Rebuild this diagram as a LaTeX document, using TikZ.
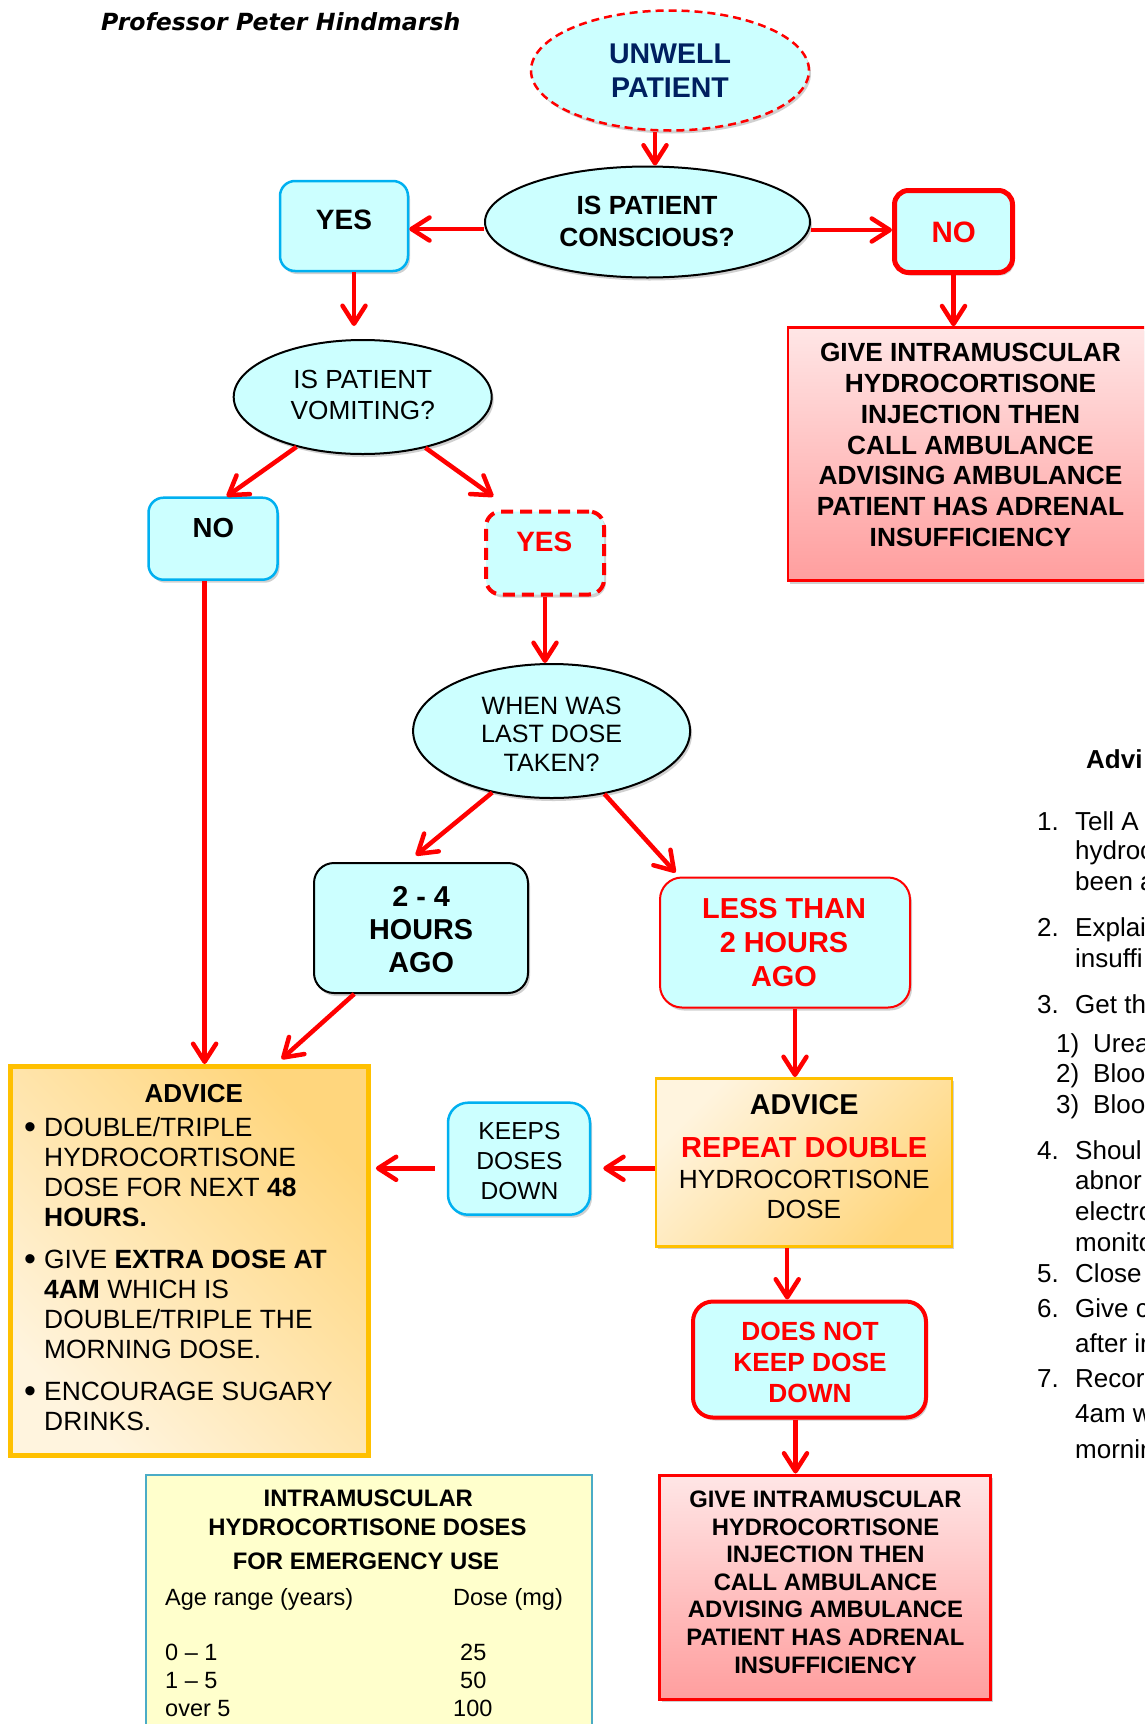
\documentclass[tikz,border=0pt]{standalone}
\usepackage{fontspec}
\setmainfont{Liberation Sans}
\newfontfamily\titlefont{DejaVu Sans}
\usetikzlibrary{arrows.meta,shapes.geometric,shadows,calc}

\definecolor{cyanfill}{RGB}{204,255,255}
\definecolor{cyanline}{RGB}{0,176,240}
\definecolor{myred}{RGB}{255,0,0}
\definecolor{gold}{RGB}{255,192,0}
\definecolor{navy}{RGB}{0,32,96}
\definecolor{tabfill}{RGB}{255,255,204}
\definecolor{tabline}{RGB}{75,172,198}
\definecolor{pinktop}{RGB}{255,230,230}
\definecolor{pinkbot}{RGB}{255,158,158}
\definecolor{ltorange}{RGB}{255,244,222}
\definecolor{dkorange}{RGB}{255,214,125}

\newcommand{\myfs}[2]{\fontsize{#1pt}{#2pt}\selectfont}

\begin{document}
\begin{tikzpicture}[x=1pt,y=-1pt,
  shad/.style={drop shadow={shadow xshift=2pt,shadow yshift=-3pt,opacity=0.3,fill=black!60}},
  arr/.style={draw=myred,line width=4.5pt,-{Straight Barb[length=18pt,width=23pt,round]}},
  ell/.style={ellipse,inner sep=0pt,fill=cyanfill,shad},
  rbox/.style={rectangle,rounded corners=15pt,inner sep=0pt,fill=cyanfill,shad},
  sbox/.style={rectangle,inner sep=0pt},
  txt/.style={inner sep=0pt,align=center},
  ln/.style={inner sep=0pt,anchor=base west,font=\myfs{26.4}{30}},
  bul/.style={inner sep=0pt,anchor=base,font=\myfs{34}{30}},
  cl/.style={inner sep=0pt,anchor=base},
  tl/.style={inner sep=0pt,anchor=base west,font=\myfs{23.5}{28}},
  rt/.style={inner sep=0pt,anchor=base west,font=\myfs{26}{30}},
]
\useasboundingbox (0,0) rectangle (1144,1724);
\clip (0,0) rectangle (1144,1724);
\fill[white] (0,0) rectangle (1144,1724);

% ---------- title
\node[inner sep=0pt,anchor=base west,font=\titlefont\bfseries\itshape\myfs{23.6}{28}] (title) at (101,30.7) {Professor Peter Hindmarsh};

% ---------- shapes
\node[ell,draw=myred,dash pattern=on 8pt off 5pt,line width=2.5pt,minimum width=278pt,minimum height=120pt] (unwell) at (670,70.5) {};
\node[ell,draw=black,line width=2pt,minimum width=325pt,minimum height=111pt] (consc) at (647.5,222) {};
\node[rbox,draw=cyanline,line width=2.5pt,minimum width=128pt,minimum height=90pt] (yes1) at (344,226) {};
\node[rbox,draw=myred,line width=5pt,rounded corners=14pt,minimum width=118pt,minimum height=82pt] (no1) at (953.5,231.5) {};
\node[sbox,draw=myred,line width=2.5pt,top color=pinktop,bottom color=pinkbot,minimum width=364pt,minimum height=253pt,shad] (red1) at (970,454) {};
\node[ell,draw=black,line width=2pt,minimum width=258pt,minimum height=114pt] (vomit) at (362.7,397) {};
\node[rbox,draw=cyanline,line width=2.5pt,minimum width=129pt,minimum height=82pt] (no2) at (213,538.7) {};
\node[rbox,draw=myred,dash pattern=on 12pt off 7pt,line width=4pt,minimum width=118pt,minimum height=83pt] (yes2) at (545,553) {};
\node[ell,draw=black,line width=2pt,minimum width=277pt,minimum height=134pt] (when) at (551.6,731) {};
\node[rbox,draw=black,line width=2pt,rounded corners=20pt,minimum width=214pt,minimum height=130pt] (h24) at (421,928) {};
\node[rbox,draw=myred,line width=2pt,rounded corners=22pt,minimum width=250pt,minimum height=130pt] (less) at (785,942.5) {};
\node[sbox,draw=gold,line width=5pt,top color=dkorange,bottom color=ltorange,shading angle=-45,minimum width=358pt,minimum height=389pt] (adv1) at (189.4,1261) {};
\node[rbox,draw=cyanline,line width=2.5pt,rounded corners=20pt,minimum width=142pt,minimum height=112pt] (keeps) at (519,1158.7) {};
\node[sbox,draw=gold,line width=2.5pt,top color=ltorange,bottom color=dkorange,shading angle=45,minimum width=296pt,minimum height=168pt,shad] (adv2) at (804.2,1162.3) {};
\node[rbox,draw=myred,line width=4pt,rounded corners=20pt,minimum width=233pt,minimum height=116pt] (doesnot) at (809.5,1359.5) {};
\node[sbox,draw=myred,line width=3pt,top color=pinktop,bottom color=pinkbot,minimum width=331pt,minimum height=224pt,shad] (red2) at (825.3,1587) {};
\node[sbox,draw=tabline,line width=2pt,fill=tabfill,minimum width=446pt,minimum height=290pt,anchor=north west] (tab) at (145,1474) {};

% ---------- connectors
\draw[arr] ($(unwell.south)+(-15,0)$) -- ($(consc.north)+(7.5,0)$);
\draw[arr] ($(consc.west)+(0,7)$) -- ($(yes1.east)+(0,3)$);
\draw[arr] ($(consc.east)+(0,8)$) -- ($(no1.west)+(0,-1.5)$);
\draw[arr] (no1.south) -- (no1.south |- red1.north);
\draw[arr] ($(yes1.south)+(10,0)$) -- ($(vomit.north)+(-8.7,-13)$);
\draw[arr] (vomit.217.7) -- ($(no2.north)+(13.7,0)$);
\draw[arr] (vomit.321) -- ($(yes2.north)+(-51.7,-13)$);
\draw[arr] (yes2.south) -- (yes2.south |- when.north);
\draw[arr] (when.226) -- ($(h24.north)+(-5.2,-6.7)$);
\draw[arr] (when.310) -- ($(less.north)+(-109.5,-4)$);
\draw[arr] ($(no2.south)+(-8.4,0)$) -- ($(no2.south |- adv1.north)+(-8.4,0)$);
\draw[arr] ($(h24.south)+(-66.8,0)$) -- ($(adv1.north)+(92.2,-5)$);
\draw[arr] ($(keeps.west)+(-12,9.6)$) -- ($(keeps.west -| adv1.east)+(5,9.6)$);
\draw[arr] ($(adv2.west)+(0,6)$) -- ($(adv2.west -| keeps.east)+(12,6)$);
\draw[arr] ($(less.south)+(10,0)$) -- ($(less.south |- adv2.north)+(10,0)$);
\draw[arr] ($(adv2.south)+(-17,0)$) -- ($(adv2.south |- doesnot.north)+(-17,0)$);
\draw[arr] ($(doesnot.south)+(-14,0)$) -- ($(doesnot.south |- red2.north)+(-14,0)$);

% ---------- texts
\node[txt,font=\bfseries\myfs{28.5}{34},text=navy] (tUnwell) at (670,70.3) {UNWELL\\PATIENT};
\node[txt,font=\bfseries\myfs{26.3}{31.5}] (tConsc) at (647,221.2) {IS PATIENT\\CONSCIOUS?};
\node[txt,font=\bfseries\myfs{28}{33}] (tYes1) at (344,219.5) {YES};
\node[txt,font=\bfseries\myfs{29.5}{34},text=myred] (tNo1) at (953.8,232.5) {NO};
\node[txt,font=\bfseries\myfs{26.3}{30.8}] (tRed1) at (970.5,445) {GIVE INTRAMUSCULAR\\HYDROCORTISONE\\INJECTION THEN\\CALL AMBULANCE\\ADVISING AMBULANCE\\PATIENT HAS ADRENAL\\INSUFFICIENCY};
\node[txt,font=\myfs{26.2}{31}] (tVomit) at (362.8,394.7) {IS PATIENT\\VOMITING?};
\node[txt,font=\bfseries\myfs{27.6}{33}] (tNo2) at (213.3,528.3) {NO};
\node[txt,font=\bfseries\myfs{28}{33},text=myred] (tYes2) at (544.3,542) {YES};
\node[txt,font=\myfs{25.1}{28.7}] (tWhen) at (551.6,734.2) {WHEN WAS\\LAST DOSE\\TAKEN?};
\node[txt,font=\bfseries\myfs{28.8}{33.3}] (tH24) at (421.1,929.5) {2 - 4\\HOURS\\AGO};
\node[txt,font=\bfseries\myfs{28.9}{34.2},text=myred] (tLess) at (784,942.8) {LESS THAN\\2 HOURS\\AGO};

% advice (left)
\node[txt,font=\bfseries\myfs{26}{30}] (tAdv1) at (193.8,1093.8) {ADVICE};
\node[bul] (b1) at (30,1138) {•};
\node[ln] (a1) at (44,1136) {DOUBLE/TRIPLE};
\node[ln] (a2) at (44,1166) {HYDROCORTISONE};
\node[ln] (a3) at (44,1196.7) {DOSE FOR NEXT \textbf{48}};
\node[ln] (a4) at (44,1226.7) {\textbf{HOURS.}};
\node[bul] (b2) at (30,1270.3) {•};
\node[ln] (a5) at (44,1268.3) {GIVE \textbf{EXTRA DOSE AT}};
\node[ln] (a6) at (44,1298.3) {\textbf{4AM} WHICH IS};
\node[ln] (a7) at (44,1328.3) {DOUBLE/TRIPLE THE};
\node[ln] (a8) at (44,1358.3) {MORNING DOSE.};
\node[bul] (b3) at (30,1402) {•};
\node[ln] (a9) at (44,1400) {ENCOURAGE SUGARY};
\node[ln] (a10) at (44,1430) {DRINKS.};

\node[txt,font=\myfs{24.6}{29.7}] (tKeeps) at (519.5,1161) {KEEPS\\DOSES\\DOWN};

% advice (right)
\node[txt,font=\bfseries\myfs{28.7}{30}] (tAdv2) at (804.2,1104.7) {ADVICE};
\node[cl,font=\bfseries\myfs{29}{30},text=myred] (tRep) at (804.2,1157.7) {REPEAT DOUBLE};
\node[cl,font=\myfs{26.3}{30}] (tHyd) at (804.2,1188.3) {HYDROCORTISONE};
\node[cl,font=\myfs{26.3}{30}] (tDose) at (804,1218.3) {DOSE};

\node[txt,font=\bfseries\myfs{26.3}{30.8},text=myred] (tDoes) at (810,1362.5) {DOES NOT\\KEEP DOSE\\DOWN};
\node[txt,font=\bfseries\myfs{23.8}{27.6}] (tRed2) at (825.5,1582) {GIVE INTRAMUSCULAR\\HYDROCORTISONE\\INJECTION THEN\\CALL AMBULANCE\\ADVISING AMBULANCE\\PATIENT HAS ADRENAL\\INSUFFICIENCY};

% dose table
\node[cl,font=\bfseries\myfs{23.85}{28}] (tt1) at (368.3,1506.5) {INTRAMUSCULAR};
\node[cl,font=\bfseries\myfs{23.85}{28}] (tt2) at (367.5,1535.5) {HYDROCORTISONE DOSES};
\node[cl,font=\bfseries\myfs{23.85}{28}] (tt3) at (366,1569) {FOR EMERGENCY USE};
\node[tl] (tt4) at (165,1605.5) {Age range (years)};
\node[tl] (tt5) at (453,1605.5) {Dose (mg)};
\node[tl] (tt6) at (165,1660.5) {0 – 1};
\node[tl] (tt7) at (460,1660.5) {25};
\node[tl] (tt8) at (165,1688.5) {1 – 5};
\node[tl] (tt9) at (460,1688.5) {50};
\node[tl] (tt10) at (165,1716.5) {over 5};
\node[tl] (tt11) at (453,1716.5) {100};

% right column (cut by the page edge, as in the reference)
\node[rt,font=\bfseries\myfs{26}{30}] (r0) at (1086,768) {Advi};
\node[rt] (r1n) at (1037,830) {1.};
\node[rt] (r1) at (1075,830) {Tell A};
\node[rt] (r1b) at (1075,859.6) {hydroc};
\node[rt] (r1c) at (1075,890.4) {been a};
\node[rt] (r2n) at (1037,936.6) {2.};
\node[rt] (r2) at (1075,936.6) {Explai};
\node[rt] (r2b) at (1075,967.4) {insuffi};
\node[rt] (r3n) at (1037,1013.6) {3.};
\node[rt] (r3) at (1075,1013.6) {Get th};
\node[rt] (s1n) at (1056,1052) {1)};
\node[rt] (s1) at (1093,1052) {Urea};
\node[rt] (s2n) at (1056,1082.9) {2)};
\node[rt] (s2) at (1093,1082.9) {Bloo};
\node[rt] (s3n) at (1056,1113.7) {3)};
\node[rt] (s3) at (1093,1113.7) {Bloo};
\node[rt] (r4n) at (1037,1159.9) {4.};
\node[rt] (r4) at (1075,1159.9) {Shoul};
\node[rt] (r4b) at (1075,1189.6) {abnor};
\node[rt] (r4c) at (1075,1220.4) {electro};
\node[rt] (r4d) at (1075,1251.2) {monito};
\node[rt] (r5n) at (1037,1282) {5.};
\node[rt] (r5) at (1075,1282) {Close};
\node[rt] (r6n) at (1037,1317.2) {6.};
\node[rt] (r6) at (1075,1317.2) {Give c};
\node[rt] (r6b) at (1075,1352.4) {after in};
\node[rt] (r7n) at (1037,1387.6) {7.};
\node[rt] (r7) at (1075,1387.6) {Recor};
\node[rt] (r7b) at (1075,1422.8) {4am w};
\node[rt] (r7c) at (1075,1458) {mornin};
\end{tikzpicture}
\end{document}
